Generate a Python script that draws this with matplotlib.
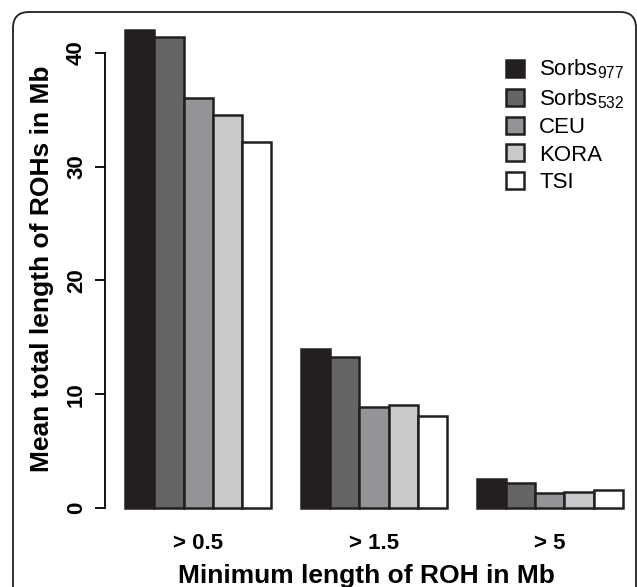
import matplotlib
matplotlib.use("Agg")
import matplotlib.pyplot as plt
from matplotlib.patches import Patch, FancyBboxPatch
import numpy as np

plt.rcParams['font.family'] = ['Liberation Sans', 'DejaVu Sans']
plt.rcParams['mathtext.fontset'] = 'custom'
plt.rcParams['mathtext.rm'] = 'Liberation Sans'

groups = ['> 0.5', '> 1.5', '> 5']
series = ['Sorbs$_{977}$', 'Sorbs$_{532}$', 'CEU', 'KORA', 'TSI']
sorbs977 = [42.0, 14.0, 2.5]
sorbs532 = [41.4, 13.3, 2.2]
ceu = [36.0, 8.9, 1.3]
kora = [34.5, 9.05, 1.4]
tsi = [32.2, 8.1, 1.6]
colors = ['#231f20', '#656565', '#929497', '#c8c9cb', '#ffffff']

values = [sorbs977, sorbs532, ceu, kora, tsi]

fig = plt.figure(figsize=(6.37, 5.87), dpi=100)

# rounded frame around the figure (inches)
frame = FancyBboxPatch((0.13, -0.5), 6.23, 5.75 + 0.5,
                       boxstyle="round,pad=0,rounding_size=0.16",
                       transform=fig.dpi_scale_trans, fill=False,
                       edgecolor='#231f20', linewidth=1.3)
fig.patches.append(frame)

px = 29.3  # pixels per bar unit
x0 = 105
ax = fig.add_axes([x0/637, (587-527)/587, 18.36*px/637, (527-11)/587])

# R-style barplot: bar width 1, one unit of space before each group
for gi in range(len(groups)):
    for si in range(len(series)):
        left = 1 + gi*6 + si
        ax.bar(left, values[si][gi], width=1, align='edge',
               color=colors[si], edgecolor='#231f20', linewidth=1.8, zorder=2)

ax.set_xlim(0.32, 18.68)
ax.set_ylim(-1.68, 43.68)
for s in ['top', 'right', 'bottom']:
    ax.spines[s].set_visible(False)
ax.spines['left'].set_bounds(0, 40)
ax.spines['left'].set_linewidth(1.3)
ax.set_yticks([0, 10, 20, 30, 40])
ax.tick_params(axis='y', length=7, width=1.3, pad=6)
for lbl in ax.get_yticklabels():
    lbl.set_rotation(90)
    lbl.set_va('center')
    lbl.set_fontsize(16)
    lbl.set_fontweight('bold')
ax.set_xticks([1 + gi*6 + 2.5 for gi in range(len(groups))])
ax.set_xticklabels(groups, fontsize=16, fontweight='bold')
ax.tick_params(axis='x', length=0, pad=4)

fig.text(366/637, 1 - 583/587, 'Minimum length of ROH in Mb', ha='center', va='baseline',
         fontsize=19, fontweight='bold')
fig.text(42/637, 1 - 269/587, 'Mean total length of ROHs in Mb', ha='center', va='center',
         rotation=90, fontsize=19, fontweight='bold')

handles = [Patch(facecolor=c, edgecolor='#231f20', linewidth=1.8) for c in colors]
fig.legend(handles, series, loc='upper left', bbox_to_anchor=(497/637, 1 - 49/587),
           frameon=False, fontsize=16, handlelength=0.8, handleheight=0.8,
           handletextpad=0.7, labelspacing=0.27, borderaxespad=0)

fig.savefig('out.png', dpi=100)
